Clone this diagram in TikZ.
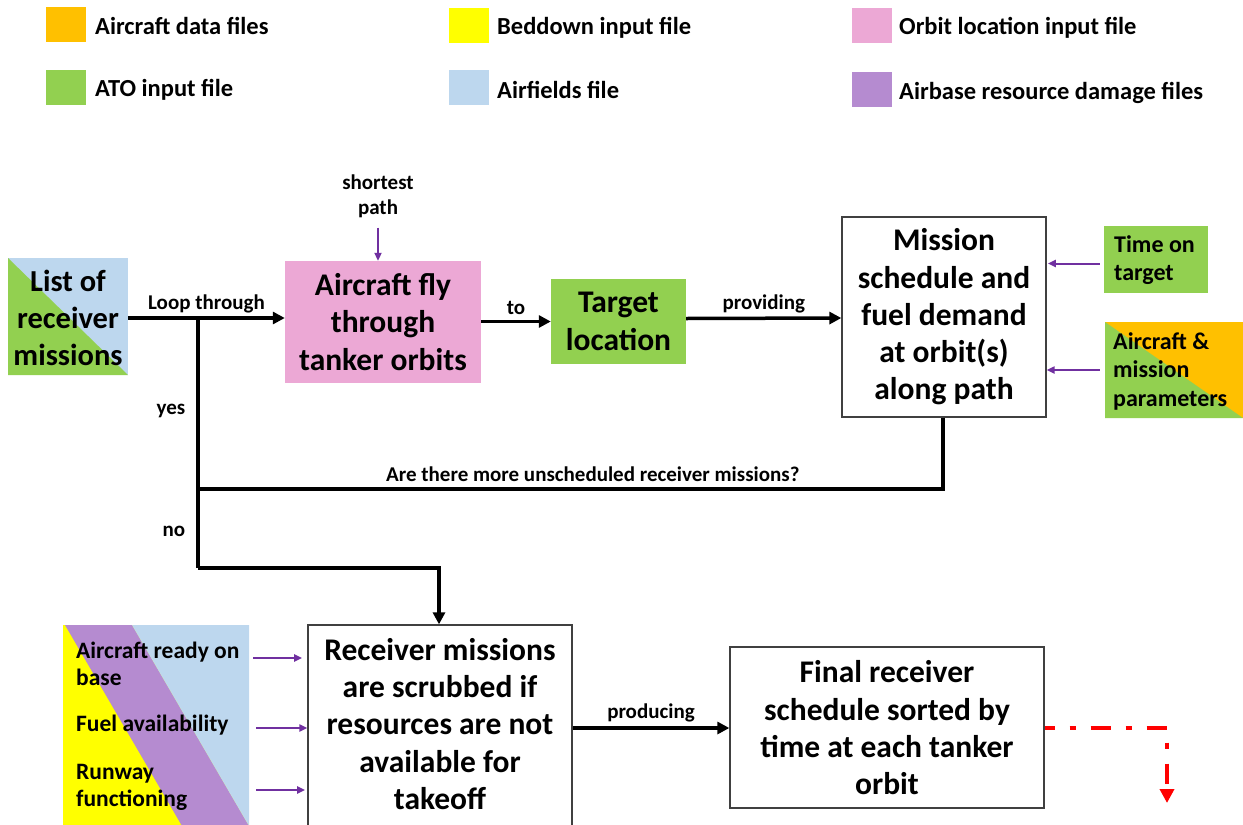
\documentclass[tikz,border=0pt]{standalone}
\usepackage{fontspec}
\setmainfont{Carlito}
\usetikzlibrary{arrows.meta}

\definecolor{cOrange}{HTML}{FFC000}
\definecolor{cGreen}{HTML}{92D050}
\definecolor{cYellow}{HTML}{FFFF00}
\definecolor{cBlue}{HTML}{BDD7EE}
\definecolor{cPink}{HTML}{ECA8D5}
\definecolor{cPurple}{HTML}{B58BD0}
\definecolor{cFeed}{HTML}{7030A0}
\definecolor{cRed}{HTML}{FF0000}

\tikzset{
  swatch/.style={minimum width=40, minimum height=35, inner sep=0, draw=none},
  legtext/.style={anchor=west, inner sep=0, font=\fontsize{24.5}{28}\selectfont\bfseries},
  bigtext/.style={inner sep=0, align=center, font=\fontsize{31.5}{37.3}\selectfont\bfseries},
  sidetext/.style={inner sep=0, align=left, font=\fontsize{24}{28.5}\selectfont\bfseries},
  inputtext/.style={inner sep=0, align=left, anchor=west, font=\fontsize{23.5}{27}\selectfont\bfseries},
  edgetext/.style={inner sep=0, font=\fontsize{21}{25}\selectfont\bfseries},
  whitebox/.style={draw=black!75, line width=1.3, fill=white},
  flow/.style={line width=3.5, -{Triangle[length=12,width=12]}},
  wire/.style={line width=3.5},
  feed/.style={cFeed, line width=2, -{Triangle[length=8,width=7]}},
  halfsplit/.style 2 args={fill=#1, path picture={
      \fill[#2] (path picture bounding box.north west) --
                (path picture bounding box.south west) --
                (path picture bounding box.south east) -- cycle;}},
}

\begin{document}
\begin{tikzpicture}[x=1pt, y=-1pt]
\useasboundingbox (0,0) rectangle (1243,825);

% ---- legend ----
\node[swatch, fill=cOrange] (s1) at (66,24) {};
\node[swatch, fill=cGreen]  (s2) at (66,87) {};
\node[swatch, fill=cYellow] (s3) at (469,25) {};
\node[swatch, fill=cBlue]   (s4) at (469,87) {};
\node[swatch, fill=cPink]   (s5) at (872,25) {};
\node[swatch, fill=cPurple] (s6) at (872,89) {};
\node[legtext] (l1) at (95,26) {Aircraft data files};
\node[legtext] (l2) at (95,90) {ATO input file};
\node[legtext] (l3) at (497,28) {Beddown input file};
\node[legtext] (l4) at (497,90) {Airfields file};
\node[legtext] (l5) at (899,28) {Orbit location input file};
\node[legtext] (l6) at (899,93) {Airbase resource damage files};

% ---- upper loop ----
\node[halfsplit={cBlue}{cGreen}, minimum width=120, minimum height=117, inner sep=0] (list) at (68,316.5) {};
\node[bigtext, font=\fontsize{30.5}{37.3}\selectfont\bfseries] (listT) at (68,318) {List of\\receiver\\missions};

\node[fill=cPink, minimum width=196, minimum height=122, inner sep=0] (fly) at (383,322) {};
\node[bigtext] (flyT) at (383,322) {Aircraft fly\\through\\tanker orbits};

\node[fill=cGreen, minimum width=135, minimum height=85, inner sep=0] (target) at (618.5,321.5) {};
\node[bigtext] (targetT) at (618.5,321.5) {Target\\location};

\node[whitebox, minimum width=204, minimum height=200, inner sep=0] (sched) at (944,317) {};
\node[bigtext] (schedT) at (944,317) {Mission\\schedule and\\fuel demand\\at orbit(s)\\along path};

\node[fill=cGreen, minimum width=104, minimum height=67, inner sep=0] (tot) at (1156,259.5) {};
\node[sidetext, anchor=west] (totT) at (1114,260) {Time on\\target};

\node[halfsplit={cOrange}{cGreen}, minimum width=138, minimum height=96, inner sep=0] (acm) at (1174,370) {};
\node[sidetext, anchor=west] (acmT) at (1113,371) {Aircraft \&\\mission\\parameters};

\node[edgetext, align=center] (sp) at (378,196) {shortest\\path};

\coordinate (jTop) at (198,318);
\coordinate (jMid) at (198,489);
\coordinate (jLow) at (198,568);
\coordinate (jTurn) at (439,568);
\coordinate (sDrop) at (943,489);

% ---- lower row ----
\fill[cYellow] (63,625) rectangle (249,826);
\fill[cPurple] (65,625) -- (132,625) -- (249,826) -- (182,826) -- cycle;
\fill[cBlue] (132,625) -- (249,625) -- (249,826) -- cycle;
\node[minimum width=186, minimum height=201, inner sep=0] (inputs) at (156,725.5) {};
\node[inputtext] (ready) at (76,664) {Aircraft ready on\\base};
\node[inputtext] (fuel) at (76,725) {Fuel availability};
\node[inputtext] (runway) at (76,787) {Runway\\functioning};

\node[whitebox, minimum width=264, minimum height=203, inner sep=0] (scrub) at (440,726.5) {};
\node[bigtext] (scrubT) at (440,724) {Receiver missions\\are scrubbed if\\resources are not\\available for\\takeoff};

\node[whitebox, minimum width=314, minimum height=161, inner sep=0] (final) at (887,727.5) {};
\node[bigtext] (finalT) at (887,728) {Final receiver\\schedule sorted by\\time at each tanker\\orbit};

\coordinate (redCorner) at (1167,728);
\coordinate (redEnd) at (1167,803);

% ---- connectors ----
\draw[flow] (list.east |- jTop) -- node[edgetext, above=3pt] {Loop through} (fly.west |- jTop);
\draw[flow] (fly.east |- target.west) -- node[edgetext, above=5pt] {to} (target.west);
\draw[flow] (target.east) ++(0,-3) -- node[edgetext, above=3pt] {providing} (sched.west |- jTop);

\draw[wire] (sched.south -| sDrop) -- (sDrop) -- node[edgetext, above=6pt, pos=0.47] {Are there more unscheduled receiver missions?} (jMid);
\draw[wire] (jTop) -- node[edgetext, left=11pt, pos=0.545] {yes} (jMid);
\draw[wire] (jMid) -- node[edgetext, left=11pt, pos=0.54] {no} (jLow);
\draw[flow] (jLow) -- (jTurn) -- (scrub.north -| jTurn);

\draw[flow] (scrub.east |- redCorner) -- node[edgetext, above=4pt] {producing} (final.west |- redCorner);

\draw[feed] (sp.south) ++(0,10) -- (fly.north -| sp.south);
\draw[feed] (tot.west) ++(-4,4) -- ++(-52,0);
\draw[feed] (acm.west) ++(-5,0) -- (sched.east |- acm.west);
\draw[feed] (inputs.east) ++(4,-67.5) -- ++(49,0);
\draw[feed] (inputs.east) ++(7,2.5) -- (scrub.west |- redCorner);
\draw[feed] (inputs.east) ++(7,64.5) -- ++(49,0);

\draw[cRed, line width=4.5, dash pattern=on 20 off 15 on 6 off 15, dash phase=10,
      -{Triangle[length=14,width=14]}]
  (final.east |- redCorner) -- (redCorner) -- (redEnd);
\end{tikzpicture}
\end{document}
